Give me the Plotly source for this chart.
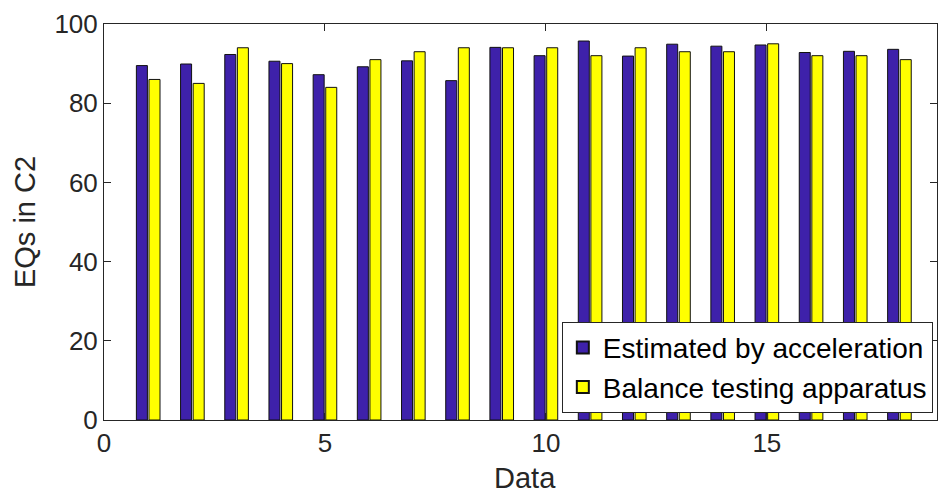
import plotly.graph_objects as go

data_idx = list(range(1, 19))
estimated = [89.5, 89.9, 92.3, 90.6, 87.2, 89.2, 90.7, 85.7, 94.1, 92.0,
             95.7, 91.9, 94.9, 94.4, 94.7, 92.8, 93.1, 93.6]
balance = [86, 85, 94, 90, 84, 91, 93, 94, 94, 94,
           92, 94, 93, 93, 95, 92, 92, 91]

xticks = [0, 5, 10, 15]
yticks = [0, 20, 40, 60, 80, 100]

FONT = "Liberation Sans, Arial, Helvetica"

fig = go.Figure()
fig.add_trace(go.Bar(x=data_idx, y=estimated, name="Estimated by acceleration",
                     marker=dict(color="#3E21AA", line=dict(color="#111111", width=1))))
fig.add_trace(go.Bar(x=data_idx, y=balance, name="Balance testing apparatus",
                     marker=dict(color="#FFFF00", line=dict(color="#111111", width=1))))

axis_common = dict(showgrid=False, zeroline=False, showline=True, linecolor="#262626",
                   linewidth=1, mirror="ticks", ticks="inside", ticklen=7,
                   tickcolor="#262626", automargin=False,
                   tickfont=dict(family=FONT, size=26, color="#262626"))

fig.update_layout(
    width=939, height=495,
    margin=dict(l=104, r=2, t=24, b=75),
    paper_bgcolor="white", plot_bgcolor="white",
    barmode="group", bargap=0.43, bargroupgap=0.125,
    showlegend=True,
    legend=dict(x=0.995, y=0.018, xanchor="right", yanchor="bottom",
                bgcolor="white", bordercolor="#262626", borderwidth=1,
                font=dict(family=FONT, size=28, color="#000000"),
                tracegroupgap=0, itemsizing="constant"),
    xaxis=dict(range=[0, 18.85], tickvals=xticks, **axis_common),
    yaxis=dict(range=[0, 100], tickvals=yticks,
               title=dict(text="EQs in C2", font=dict(family=FONT, size=29, color="#262626"), standoff=10),
               **axis_common),
    annotations=[dict(text="Data", xref="paper", yref="paper", x=0.505, y=-0.147,
                      xanchor="center", yanchor="middle", showarrow=False,
                      font=dict(family=FONT, size=29, color="#262626"))],
)

fig.write_html("out.html", config={"displayModeBar": False},
               post_script="document.body.style.margin='0';")
